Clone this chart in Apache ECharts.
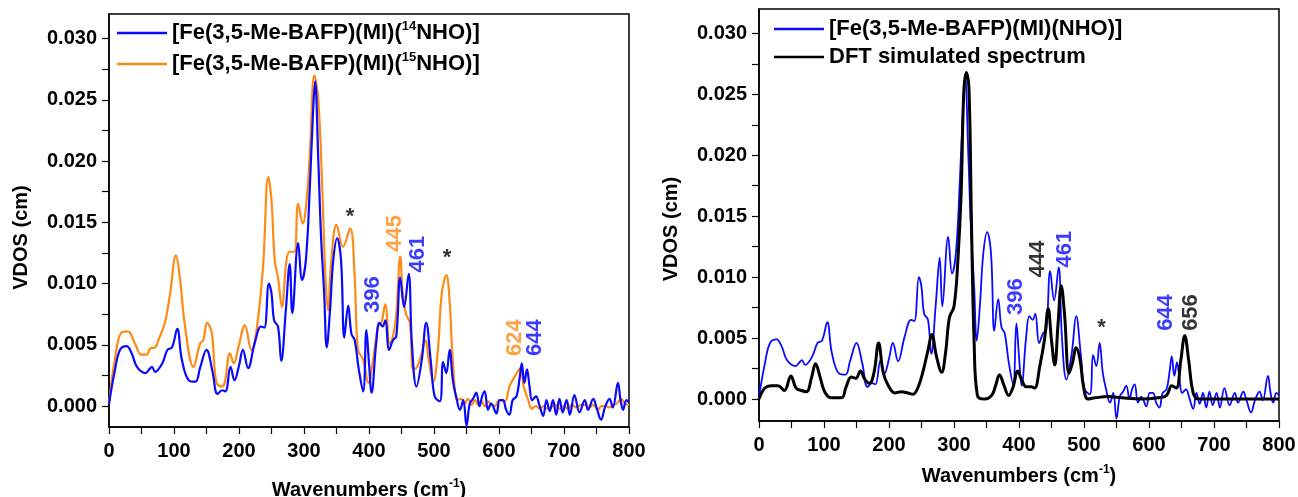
<!DOCTYPE html>
<html>
<head>
<meta charset="utf-8">
<script src="https://cdn.jsdelivr.net/npm/echarts@6/dist/echarts.min.js"></script>
<style>
  html, body { margin: 0; padding: 0; background: #fff; }
  #chart { width: 1298px; height: 497px; }
</style>
</head>
<body>
<div id="chart"></div>
<script>
// [wavenumber (cm-1), VDOS (cm)]
const nho14 = [
  [0,0.0002],[9,0.0029],[17,0.0046],[27,0.0049],[35,0.0043],[43,0.0032],[56,0.0027],[62,0.0030],[66,0.0032],[71,0.0028],
  [82,0.0035],[90,0.0046],[97,0.0048],[105,0.0063],[112,0.0038],[123,0.0021],[133,0.0020],[140,0.0031],[150,0.0046],[159,0.0029],
  [167,0.0010],[174,0.0013],[179,0.0012],[187,0.0032],[193,0.0021],[200,0.0033],[206,0.0046],[214,0.0031],[224,0.0051],[234,0.0065],
  [239,0.0064],[246,0.0100],[250,0.0092],[254,0.0070],[260,0.0065],[265,0.0037],[272,0.0078],[278,0.0116],[282,0.0076],[291,0.0133],
  [297,0.0103],[303,0.0120],[309,0.0179],[314,0.0241],[317,0.0265],[322,0.0201],[326,0.0141],[331,0.0092],[335,0.0048],[340,0.0078],
  [345,0.0119],[351,0.0137],[357,0.0119],[362,0.0056],[368,0.0082],[373,0.0059],[378,0.0054],[384,0.0031],[391,0.0012],[396,0.0062],
  [400,0.0035],[404,0.0011],[411,0.0051],[416,0.0068],[421,0.0065],[425,0.0070],[431,0.0046],[437,0.0054],[442,0.0057],[448,0.0105],
  [454,0.0081],[461,0.0108],[466,0.0051],[473,0.0016],[481,0.0037],[488,0.0068],[495,0.0037],[501,0.0008],[509,0.0004],[514,0.0036],
  [519,0.0027],[524,0.0046],[529,0.0021],[534,0.0008],[540,-0.0003],[545,0.0005],[550,-0.0016],[555,0.0002],[560,0.0006],[565,0.0011],
  [570,0.0000],[574,0.0008],[578,0.0012],[583,-0.0003],[588,0.0002],[596,-0.0006],[601,0.0005],[606,0.0005],[611,-0.0003],[616,-0.0007],
  [621,0.0005],[627,0.0008],[632,0.0024],[635,0.0035],[639,0.0019],[643,0.0030],[647,0.0016],[651,0.0005],[657,0.0008],[662,0.0001],
  [668,-0.0008],[673,0.0005],[678,-0.0004],[683,0.0005],[688,-0.0007],[693,0.0006],[698,-0.0005],[704,0.0005],[709,-0.0007],[716,0.0009],
  [724,-0.0005],[732,0.0005],[737,-0.0003],[745,0.0006],[750,-0.0001],[757,-0.0011],[763,-0.0001],[770,0.0006],[775,-0.0001],[783,0.0019],
  [787,0.0005],[791,-0.0003],[796,0.0005],[800,0.0003]
];
const nho15 = [
  [0,0.0002],[9,0.0038],[19,0.0060],[29,0.0061],[40,0.0051],[50,0.0042],[58,0.0042],[63,0.0047],[71,0.0048],[76,0.0054],
  [86,0.0068],[94,0.0092],[103,0.0123],[109,0.0105],[117,0.0065],[130,0.0032],[140,0.0051],[145,0.0054],[151,0.0068],[158,0.0060],
  [165,0.0020],[173,0.0016],[178,0.0019],[186,0.0043],[192,0.0035],[199,0.0048],[209,0.0066],[219,0.0046],[227,0.0062],[237,0.0114],
  [245,0.0187],[250,0.0168],[255,0.0119],[260,0.0105],[266,0.0081],[273,0.0119],[278,0.0126],[285,0.0126],[291,0.0165],[298,0.0149],
  [304,0.0168],[309,0.0206],[316,0.0270],[322,0.0250],[328,0.0179],[333,0.0105],[337,0.0078],[342,0.0119],[350,0.0148],[360,0.0130],
  [371,0.0145],[378,0.0105],[383,0.0046],[391,0.0038],[399,0.0019],[406,0.0037],[414,0.0065],[419,0.0068],[425,0.0083],[432,0.0051],
  [437,0.0057],[442,0.0075],[448,0.0122],[452,0.0092],[457,0.0075],[463,0.0068],[468,0.0030],[474,0.0032],[481,0.0043],[487,0.0054],
  [492,0.0037],[499,0.0020],[506,0.0046],[512,0.0092],[519,0.0107],[524,0.0086],[529,0.0037],[536,0.0005],[542,0.0006],[547,0.0002],
  [552,0.0006],[558,0.0001],[563,0.0005],[568,0.0001],[573,0.0004],[578,0.0000],[583,0.0004],[588,0.0001],[593,0.0000],[601,0.0005],
  [609,0.0004],[616,0.0016],[624,0.0024],[633,0.0031],[638,0.0016],[645,0.0005],[650,-0.0002],[657,0.0000],[663,-0.0002],[668,0.0000],
  [674,-0.0002],[680,-0.0001],[687,0.0001],[693,-0.0002],[700,0.0000],[706,-0.0002],[712,0.0001],[719,-0.0001],[726,0.0001],[732,0.0001],
  [739,-0.0001],[745,0.0001],[752,-0.0003],[758,0.0000],[763,0.0000],[770,-0.0001],[775,0.0001],[781,0.0002],[788,0.0006],[794,0.0002],
  [800,0.0001]
];
const dft = [
  [0,0.0000],[9,0.0009],[19,0.0011],[29,0.0011],[39,0.0007],[49,0.0019],[57,0.0009],[65,0.0007],[73,0.0006],[81,0.0018],
  [87,0.0029],[94,0.0018],[101,0.0006],[111,0.0001],[127,0.0001],[134,0.0010],[142,0.0018],[149,0.0017],[156,0.0023],[163,0.0016],
  [170,0.0013],[177,0.0022],[184,0.0046],[191,0.0022],[199,0.0011],[209,0.0005],[219,0.0006],[229,0.0005],[237,0.0004],[245,0.0010],
  [252,0.0022],[260,0.0040],[266,0.0053],[273,0.0035],[281,0.0022],[287,0.0038],[293,0.0067],[300,0.0076],[306,0.0114],[311,0.0169],
  [315,0.0251],[319,0.0268],[323,0.0255],[327,0.0141],[331,0.0046],[336,0.0003],[347,0.0000],[358,0.0003],[364,0.0011],[370,0.0020],
  [377,0.0011],[384,0.0003],[391,0.0010],[398,0.0023],[404,0.0016],[411,0.0010],[419,0.0010],[424,0.0009],[432,0.0027],[439,0.0048],
  [445,0.0074],[450,0.0048],[455,0.0028],[460,0.0061],[465,0.0093],[470,0.0070],[477,0.0021],[482,0.0029],[488,0.0042],[494,0.0032],
  [499,0.0011],[506,0.0000],[517,0.0001],[537,0.0002],[558,0.0001],[588,0.0000],[614,0.0001],[627,0.0003],[635,0.0011],[642,0.0009],
  [649,0.0032],[655,0.0052],[661,0.0032],[668,0.0005],[676,0.0000],[800,0.0000]
];

// peak labels: [x, y, text, colour, rotated]
const notesLeft = [
  [371, 0.0154, '*', '#000', false],
  [406, 0.0091, '396', '#0a0aff', true],
  [440, 0.0141, '445', '#ff8a14', true],
  [475, 0.0124, '461', '#0a0aff', true],
  [520, 0.0121, '*', '#000', false],
  [625, 0.0056, '624', '#ff8a14', true],
  [655, 0.0056, '644', '#0a0aff', true]
];
const notesRight = [
  [395, 0.0084, '396', '#0a0aff', true],
  [429, 0.0115, '444', '#000', true],
  [471, 0.0123, '461', '#0a0aff', true],
  [527, 0.0058, '*', '#000', false],
  [626, 0.0071, '644', '#0a0aff', true],
  [665, 0.0071, '656', '#000', true]
];

const xTicks = [0, 50, 100, 150, 200, 250, 300, 350, 400, 450, 500, 550, 600, 650, 700, 750, 800];
const xLabels = [0, 100, 200, 300, 400, 500, 600, 700, 800];
const yTicks = [0, 0.0025, 0.005, 0.0075, 0.01, 0.0125, 0.015, 0.0175, 0.02, 0.0225, 0.025, 0.0275, 0.03];
const yLabels = [0, 0.005, 0.01, 0.015, 0.02, 0.025, 0.03];

const FONT = 'Liberation Sans, Arial, sans-serif';
const BLUE = '#0a0aff';
const ORANGE = '#ff8a14';

function xAxisFor (gridIndex, gap) {
  return {
    type: 'value', gridIndex, min: 0, max: 800,
    name: '{t|Wavenumbers (cm}{s|-1}{t|)}',
    nameLocation: 'middle', nameGap: gap,
    nameTextStyle: {
      rich: {
        t: { fontFamily: FONT, fontWeight: 'bold', fontSize: 20, color: '#000' },
        s: { fontFamily: FONT, fontWeight: 'bold', fontSize: 12, color: '#000', padding: [0, 0, 12, 0] }
      }
    },
    axisLine: { show: true, onZero: false, lineStyle: { color: '#000', width: 1.5 } },
    axisTick: { show: true, length: 7, customValues: xTicks, lineStyle: { color: '#000', width: 1.2 } },
    axisLabel: { customValues: xLabels, margin: 14, fontFamily: FONT, fontWeight: 'bold', fontSize: 20, color: '#000' },
    splitLine: { show: false }
  };
}

function yAxisFor (gridIndex, min, shift) {
  return {
    type: 'value', gridIndex, min, max: 0.032,
    name: 'VDOS (cm)', nameLocation: 'middle', nameGap: 78,
    nameTextStyle: { fontFamily: FONT, fontWeight: 'bold', fontSize: 20, color: '#000', padding: [0, shift, 0, 0] },
    axisLine: { show: true, lineStyle: { color: '#000', width: 1.5 } },
    axisTick: { show: true, length: 7, customValues: yTicks, lineStyle: { color: '#000', width: 1.2 } },
    axisLabel: {
      customValues: yLabels, margin: 12, fontFamily: FONT, fontWeight: 'bold', fontSize: 20, color: '#000',
      formatter: v => v.toFixed(3)
    },
    splitLine: { show: false }
  };
}

function notesSeries (notes, idx) {
  return {
    type: 'scatter', xAxisIndex: idx, yAxisIndex: idx, symbolSize: 0, silent: true, z: 5,
    data: notes.map(n => ({
      value: [n[0], n[1]],
      label: {
        show: true, position: 'inside', formatter: n[2], color: n[3],
        rotate: n[4] ? 90 : 0, fontFamily: FONT, fontWeight: 'bold', fontSize: 22
      }
    }))
  };
}

const legendRich = {
  t: { fontFamily: FONT, fontWeight: 'bold', fontSize: 22, color: '#000' },
  s: { fontFamily: FONT, fontWeight: 'bold', fontSize: 13, color: '#000', padding: [0, 0, 13, 0] }
};

const chart = echarts.init(document.getElementById('chart'));
chart.setOption({
  animation: false,
  backgroundColor: '#fff',
  grid: [
    { left: 109, top: 14, width: 520, height: 413, outerBoundsMode: 'none', show: true, borderColor: '#000', borderWidth: 1.5 },
    { left: 759, top: 9, width: 520, height: 412, outerBoundsMode: 'none', show: true, borderColor: '#000', borderWidth: 1.5 }
  ],
  xAxis: [xAxisFor(0, 51), xAxisFor(1, 43)],
  yAxis: [yAxisFor(0, -0.0017, 34), yAxisFor(1, -0.0018, 28)],
  legend: [
    {
      data: [{ name: 'n14', icon: 'rect' }, { name: 'n15', icon: 'rect' }],
      left: 112, top: 15, orient: 'vertical', itemWidth: 50, itemHeight: 2.4, itemGap: 6,
      formatter: name => name === 'n14'
        ? '{t|[Fe(3,5-Me-BAFP)(MI)(}{s|14}{t|NHO)]}'
        : '{t|[Fe(3,5-Me-BAFP)(MI)(}{s|15}{t|NHO)]}',
      textStyle: { rich: legendRich, lineHeight: 24 }
    },
    {
      data: [{ name: 'nho', icon: 'rect' }, { name: 'dft', icon: 'rect' }],
      left: 769, top: 12, orient: 'vertical', itemWidth: 50, itemHeight: 2.6, itemGap: 4,
      formatter: name => name === 'nho' ? '[Fe(3,5-Me-BAFP)(MI)(NHO)]' : 'DFT simulated spectrum',
      textStyle: { fontFamily: FONT, fontWeight: 'bold', fontSize: 22, color: '#000', lineHeight: 24 }
    }
  ],
  series: [
    { name: 'n15', type: 'line', data: nho15, xAxisIndex: 0, yAxisIndex: 0, symbol: 'none', smooth: 0.4,
      lineStyle: { color: ORANGE, width: 2.2 }, itemStyle: { color: ORANGE }, z: 2 },
    { name: 'n14', type: 'line', data: nho14, xAxisIndex: 0, yAxisIndex: 0, symbol: 'none', smooth: 0.4,
      lineStyle: { color: BLUE, width: 2.2 }, itemStyle: { color: BLUE }, z: 3 },
    { name: 'nho', type: 'line', data: nho14, xAxisIndex: 1, yAxisIndex: 1, symbol: 'none', smooth: 0.4,
      lineStyle: { color: BLUE, width: 1.8 }, itemStyle: { color: BLUE }, z: 2 },
    { name: 'dft', type: 'line', data: dft, xAxisIndex: 1, yAxisIndex: 1, symbol: 'none', smooth: 0.4,
      lineStyle: { color: '#000', width: 3 }, itemStyle: { color: '#000' }, z: 3 },
    notesSeries(notesLeft, 0),
    notesSeries(notesRight, 1)
  ]
});
</script>
</body>
</html>
